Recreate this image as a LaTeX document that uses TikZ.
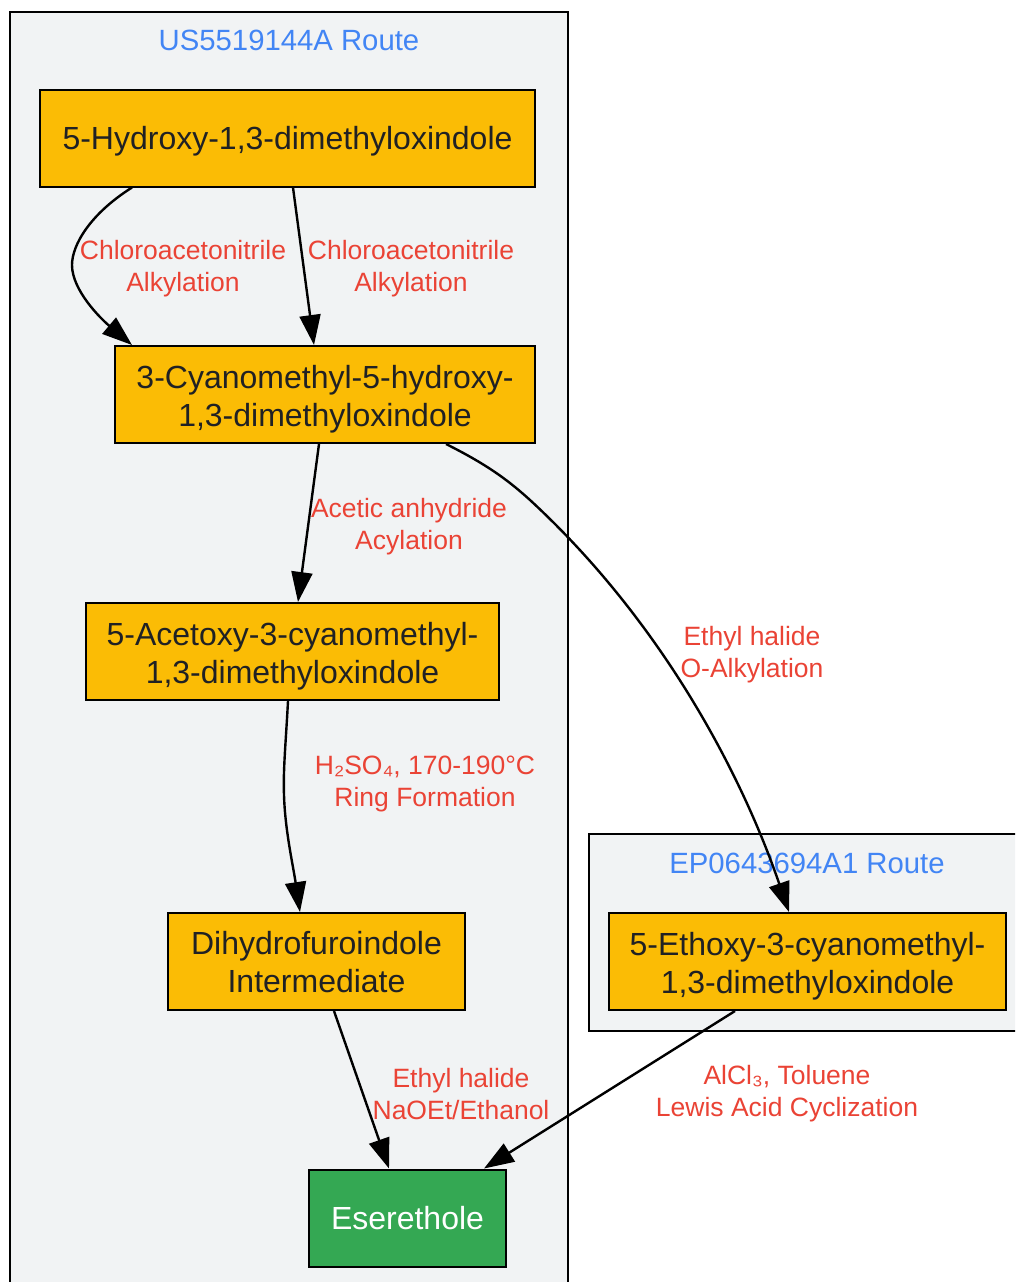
\documentclass[tikz,border=0pt]{standalone}
\usepackage{fontspec}
\setmainfont{Liberation Sans}
\usetikzlibrary{arrows.meta}
\definecolor{clfill}{HTML}{F1F3F4}
\definecolor{clblue}{HTML}{4285F4}
\definecolor{lbred}{HTML}{EA4335}
\definecolor{orng}{HTML}{FBBC05}
\definecolor{grn}{HTML}{34A853}
\definecolor{ink}{HTML}{202124}
\newcommand{\mynodefont}{\fontsize{32}{38}\selectfont}
\newcommand{\myedgefont}{\fontsize{26.5}{32}\selectfont}
\newcommand{\myclfont}{\fontsize{29.3}{34}\selectfont}
\tikzset{
  basebox/.style={draw=black, line width=2pt, fill=orng, text=ink, font=\mynodefont, align=center, inner sep=0pt, minimum height=97pt},
  box/.style={basebox, execute at begin node={\rule{0pt}{30pt}}},
  twobox/.style={basebox, execute at begin node={\rule{0pt}{70pt}}},
  lbl/.style={text=lbred, font=\myedgefont, align=center},
  conn/.style={draw=black, line width=2.4pt, -{Triangle[length=30pt,width=21pt]}},
  cluster/.style={draw=black, line width=2pt, fill=clfill},
  clabel/.style={text=clblue, font=\myclfont},
}
\begin{document}
\begin{tikzpicture}[x=1pt,y=-1pt]
\clip (0,0) rectangle (1015,1282);
\fill[white] (0,0) rectangle (1015,1282);
% clusters
\draw[cluster] (10,12) rectangle (568,1320);
\node[clabel] (cl1) at (289,40) {US5519144A Route};
\draw[cluster] (589,834) rectangle (1040,1031);
\node[clabel] (cl2) at (807,863) {EP0643694A1 Route};
% nodes
\node[box, minimum width=495pt] (A) at (287.5,138) {5-Hydroxy-1,3-dimethyloxindole};
\node[twobox, minimum width=420pt] (B) at (325,394.5) {3-Cyanomethyl-5-hydroxy-\\1,3-dimethyloxindole};
\node[twobox, minimum width=413pt] (C) at (292.5,651.5) {5-Acetoxy-3-cyanomethyl-\\1,3-dimethyloxindole};
\node[twobox, minimum width=297pt] (D) at (316.5,961.5) {Dihydrofuroindole\\Intermediate\rule[-8pt]{0pt}{8pt}};
\node[basebox, minimum width=197pt, fill=grn, text=white] (E) at (407.5,1218) {Eserethole};
\node[twobox, minimum width=397pt] (F) at (807.5,961.5) {5-Ethoxy-3-cyanomethyl-\\1,3-dimethyloxindole};
% edges
\draw[conn] ([xshift=-155.5pt]A.south) .. controls (90,214) and (72,245) .. (72,265) .. controls (72,290) and (100,318) .. ([xshift=-193pt]B.north);
\draw[conn] ([xshift=5.5pt]A.south) -- ([xshift=-11pt]B.north);
\draw[conn] ([xshift=-6pt]B.south) -- ([xshift=5.5pt]C.north);
\draw[conn] ([xshift=121pt]B.south) .. controls (490,466) and (510,482) .. (530,500) .. controls (660,620) and (740,770) .. ([xshift=-18.5pt]F.north);
\draw[conn] ([xshift=-4.5pt]C.south) .. controls (286,740) and (283,770) .. (284,795) .. controls (285,830) and (293,865) .. ([xshift=-16.5pt]D.north);
\draw[conn] ([xshift=17.5pt]D.south) -- ([xshift=-18.5pt]E.north);
\draw[conn] ([xshift=-72.5pt]F.south) -- ([xshift=76.5pt]E.north);
% edge labels
\node[lbl] (l1) at (183,269) {Chloroacetonitrile\\Alkylation};
\node[lbl] (l2) at (411,269) {Chloroacetonitrile\\Alkylation};
\node[lbl] (l3) at (409,527) {Acetic anhydride\\Acylation};
\node[lbl] (l4) at (752,655) {Ethyl halide\\O-Alkylation};
\node[lbl] (l5) at (425,784) {H₂SO₄, 170-190°C\\Ring Formation};
\node[lbl] (l6) at (461,1094) {Ethyl halide\\NaOEt/Ethanol};
\node[lbl] (l7) at (787,1094) {AlCl₃, Toluene\\Lewis Acid Cyclization};
\end{tikzpicture}
\end{document}
